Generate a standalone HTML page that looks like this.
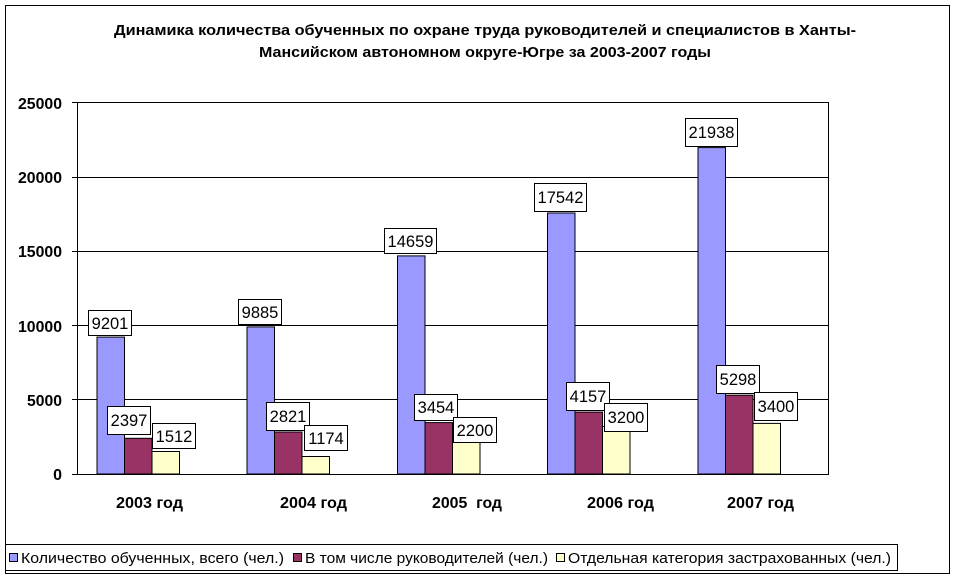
<!DOCTYPE html>
<html><head><meta charset="utf-8"><style>
body{margin:0;background:#fff}
svg{display:block;font-family:"Liberation Sans",Arial,sans-serif}
</style></head><body>
<svg width="957" height="580" xmlns="http://www.w3.org/2000/svg">
<rect x="0" y="0" width="957" height="580" fill="#fff"/>
<rect x="5.5" y="5.5" width="944" height="568" fill="none" stroke="#000" stroke-width="1"/>
<g font-weight="bold" font-size="14.5" text-anchor="middle" fill="#000">
<text x="485" y="35" textLength="742" lengthAdjust="spacingAndGlyphs">Динамика количества обученных по охране труда руководителей и специалистов в Ханты-</text>
<text x="485" y="57" textLength="452" lengthAdjust="spacingAndGlyphs">Мансийском автономном округе-Югре за 2003-2007 годы</text>
</g>
<g stroke="#000" stroke-width="1">
<line x1="72" y1="102.5" x2="828" y2="102.5"/>
<line x1="72" y1="177.5" x2="828" y2="177.5"/>
<line x1="72" y1="251.5" x2="828" y2="251.5"/>
<line x1="72" y1="325.5" x2="828" y2="325.5"/>
<line x1="72" y1="399.5" x2="828" y2="399.5"/>
<line x1="72" y1="474.5" x2="828" y2="474.5"/>
<line x1="77.5" y1="102" x2="77.5" y2="475"/>
<line x1="828.5" y1="102" x2="828.5" y2="475"/>
</g>
<g font-weight="bold" font-size="16" text-anchor="end">
<text x="62" y="109" textLength="44" lengthAdjust="spacingAndGlyphs">25000</text>
<text x="62" y="183" textLength="44" lengthAdjust="spacingAndGlyphs">20000</text>
<text x="62" y="257" textLength="44" lengthAdjust="spacingAndGlyphs">15000</text>
<text x="62" y="332" textLength="44" lengthAdjust="spacingAndGlyphs">10000</text>
<text x="62" y="406" textLength="35" lengthAdjust="spacingAndGlyphs">5000</text>
<text x="62" y="480">0</text>
</g>
<g stroke="#000" stroke-width="1">
<rect x="97" y="337.1" width="27.5" height="136.9" fill="#9999ff"/>
<rect x="124.5" y="438.3" width="27.5" height="35.7" fill="#993366"/>
<rect x="152" y="451.5" width="27.5" height="22.5" fill="#ffffcc"/>
<rect x="247" y="326.9" width="27.5" height="147.1" fill="#9999ff"/>
<rect x="274.5" y="432" width="27.5" height="42" fill="#993366"/>
<rect x="302" y="456.5" width="27.5" height="17.5" fill="#ffffcc"/>
<rect x="397.5" y="255.9" width="27.5" height="218.1" fill="#9999ff"/>
<rect x="425" y="422.6" width="27.5" height="51.4" fill="#993366"/>
<rect x="452.5" y="441.3" width="27.5" height="32.7" fill="#ffffcc"/>
<rect x="547.5" y="213" width="27.5" height="261" fill="#9999ff"/>
<rect x="575" y="412.1" width="27.5" height="61.9" fill="#993366"/>
<rect x="602.5" y="426.4" width="27.5" height="47.6" fill="#ffffcc"/>
<rect x="698" y="147.6" width="27.5" height="326.4" fill="#9999ff"/>
<rect x="725.5" y="395.2" width="27.5" height="78.8" fill="#993366"/>
<rect x="753" y="423.4" width="27.5" height="50.6" fill="#ffffcc"/>
</g>
<g font-size="16.5" text-anchor="middle">
<g fill="#fff" stroke="#000" stroke-width="1">
<rect x="88.5" y="310.5" width="43" height="25"/>
<rect x="107.5" y="406.5" width="43" height="28"/>
<rect x="152.5" y="423.5" width="43" height="25"/>
<rect x="238.5" y="299.5" width="43" height="25"/>
<rect x="266.5" y="402.5" width="43" height="28"/>
<rect x="304.5" y="425.5" width="43" height="25"/>
<rect x="384.5" y="228.5" width="52" height="25"/>
<rect x="414.5" y="394.5" width="43" height="26"/>
<rect x="453.5" y="417.5" width="43" height="25"/>
<rect x="534.5" y="183.5" width="52" height="28"/>
<rect x="566.5" y="382.5" width="43" height="28"/>
<rect x="604.5" y="403.5" width="43" height="28"/>
<rect x="685.5" y="118.5" width="52" height="28"/>
<rect x="716.5" y="365.5" width="43" height="28"/>
<rect x="754.5" y="392.5" width="43" height="28"/>
</g>
<text x="110" y="329">9201</text>
<text x="129" y="426">2397</text>
<text x="174" y="442">1512</text>
<text x="260" y="318">9885</text>
<text x="288" y="422">2821</text>
<text x="326" y="444">1174</text>
<text x="410.5" y="247">14659</text>
<text x="436" y="413">3454</text>
<text x="475" y="436">2200</text>
<text x="560.5" y="203">17542</text>
<text x="588" y="402">4157</text>
<text x="626" y="423">3200</text>
<text x="711.5" y="138">21938</text>
<text x="738" y="385">5298</text>
<text x="776" y="412">3400</text>
</g>
<g font-weight="bold" font-size="15.5">
<text x="116" y="508" textLength="67" lengthAdjust="spacingAndGlyphs">2003 год</text>
<text x="280" y="508" textLength="67" lengthAdjust="spacingAndGlyphs">2004 год</text>
<text x="432" y="508" xml:space="preserve" textLength="70" lengthAdjust="spacingAndGlyphs">2005  год</text>
<text x="587" y="508" textLength="67" lengthAdjust="spacingAndGlyphs">2006 год</text>
<text x="727" y="508" textLength="67" lengthAdjust="spacingAndGlyphs">2007 год</text>
</g>
<rect x="5.5" y="544.5" width="892" height="26" fill="#fff" stroke="#000"/>
<g stroke="#000" stroke-width="1">
<rect x="9.5" y="553.5" width="8" height="8" fill="#9999ff"/>
<rect x="293.5" y="553.5" width="8" height="8" fill="#993366"/>
<rect x="556.5" y="553.5" width="8" height="8" fill="#ffffcc"/>
</g>
<g font-size="14.5">
<text x="21" y="563" textLength="263" lengthAdjust="spacingAndGlyphs">Количество обученных, всего (чел.)</text>
<text x="305" y="563" textLength="243" lengthAdjust="spacingAndGlyphs">В том числе руководителей (чел.)</text>
<text x="568" y="563" textLength="323" lengthAdjust="spacingAndGlyphs">Отдельная категория застрахованных (чел.)</text>
</g>
</svg>
</body></html>
